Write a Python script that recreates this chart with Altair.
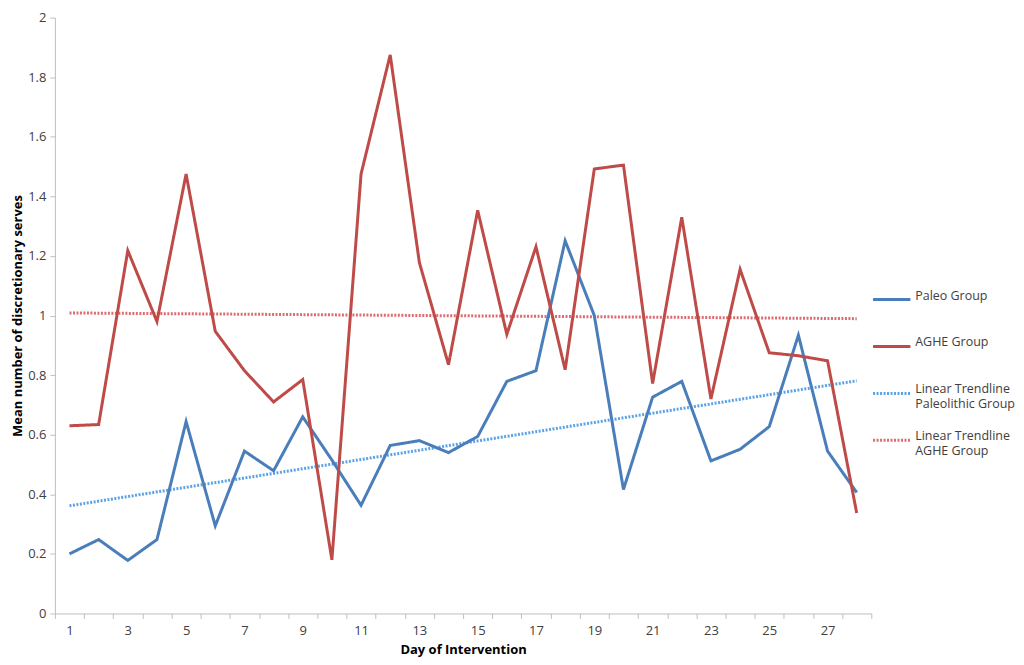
import altair as alt
import pandas as pd

days = list(range(1, 29))
paleo = [0.200, 0.248, 0.178, 0.248, 0.644, 0.294, 0.545, 0.479, 0.660, 0.515,
         0.363, 0.564, 0.580, 0.540, 0.594, 0.779, 0.815, 1.251, 1.000, 0.416,
         0.726, 0.779, 0.512, 0.551, 0.627, 0.934, 0.545, 0.406]
aghe = [0.630, 0.634, 1.218, 0.980, 1.475, 0.947, 0.815, 0.710, 0.785, 0.180,
        1.475, 1.875, 1.178, 0.835, 1.353, 0.937, 1.231, 0.818, 1.492, 1.505,
        0.772, 1.330, 0.720, 1.155, 0.875, 0.865, 0.848, 0.337]

series_names = ["Paleo Group", "AGHE Group",
                "Linear Trendline|Paleolithic Group", "Linear Trendline|AGHE Group"]
series_colors = ["#4A7EBB", "#BE4B48", "#5BA3E6", "#DD6B70"]
series_dash = [[1, 0], [1, 0], [2, 1.5], [2, 1.5]]
series_width = [3, 3, 1.0, 1.0]

df = pd.DataFrame({
    "day": days * 2,
    "value": paleo + aghe,
    "series": ["Paleo Group"] * len(days) + ["AGHE Group"] * len(days),
})

FONT = "Open Sans"
GREY = "#BFBFBF"
TXT = "#404040"
W = 818

x_enc = alt.X(
    "day:O",
    scale=alt.Scale(type="band", paddingInner=0, paddingOuter=0),
    bandPosition=0.5,
    axis=alt.Axis(
        title="Day of Intervention",
        labelAngle=0,
        tickBand="extent",
        labelExpr="datum.value % 2 == 1 ? datum.label : ''",
        labelPadding=6,
        titlePadding=6,
        tickSize=5,
    ),
)
y_enc = alt.Y(
    "value:Q",
    scale=alt.Scale(domain=[0, 2], nice=False),
    axis=alt.Axis(
        title="Mean number of discretionary serves",
        values=[0, 0.2, 0.4, 0.6, 0.8, 1, 1.2, 1.4, 1.6, 1.8, 2],
        format="~g",
        grid=False,
        tickSize=5,
        labelPadding=4,
        titlePadding=3,
    ),
)

color_enc = alt.Color(
    "series:N",
    scale=alt.Scale(domain=series_names, range=series_colors),
    legend=alt.Legend(
        title=None,
        orient="none",
        legendX=W,
        legendY=262,
        symbolType="stroke",
        symbolSize=1400,
        labelExpr="split(datum.label, '|')",
        labelFont=FONT,
        labelFontSize=12.5,
        labelColor=TXT,
        labelOffset=3,
        rowPadding=9,
        gridAlign="all",
        labelBaseline="alphabetic",
        padding=0,
    ),
)
dash_enc = alt.StrokeDash(
    "series:N",
    scale=alt.Scale(domain=series_names, range=series_dash),
    legend=None,
)
width_enc = alt.StrokeWidth(
    "series:N",
    scale=alt.Scale(domain=series_names, range=series_width),
    legend=None,
)

lines = alt.Chart(df).mark_line().encode(
    x=x_enc, y=y_enc, color=color_enc, strokeDash=dash_enc, strokeWidth=width_enc
)

trend = (
    alt.Chart(df)
    .transform_regression("day", "value", groupby=["series"], extent=[1, 28])
    .transform_calculate(
        series="datum.series == 'Paleo Group' ? 'Linear Trendline|Paleolithic Group' : 'Linear Trendline|AGHE Group'"
    )
    .mark_line()
    .encode(x=x_enc, y=y_enc, color=color_enc, strokeDash=dash_enc, strokeWidth=width_enc)
)

chart = (
    alt.layer(trend, lines)
    .properties(width=W, height=597, padding={"left": 3, "top": 3, "right": 0, "bottom": 0})
    .configure_view(stroke=None)
    .configure_axis(
        domainColor=GREY,
        tickColor=GREY,
        labelColor=TXT,
        labelFont=FONT,
        labelFontSize=13,
        titleFont=FONT,
        titleFontSize=13,
        titleColor="#000000",
        titleFontWeight="bold",
        grid=False,
    )
)

chart.save("out.html", embed_options={"renderer": "svg", "actions": False})
